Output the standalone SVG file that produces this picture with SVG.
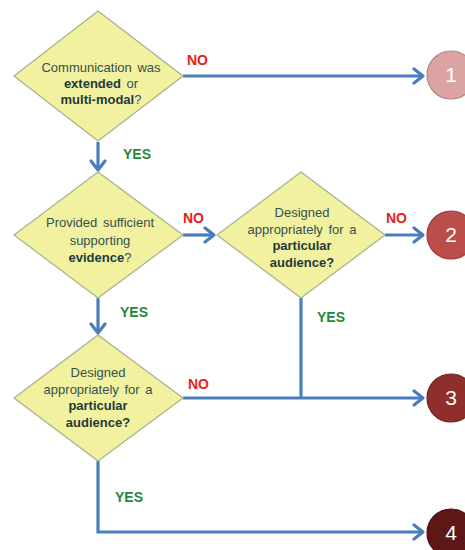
<svg xmlns="http://www.w3.org/2000/svg" width="465" height="550" viewBox="0 0 465 550">
<defs>
<marker id="arr" markerUnits="userSpaceOnUse" markerWidth="16" markerHeight="18" refX="12" refY="8" orient="auto" overflow="visible">
<path d="M3,1 L12,8 L3,15" fill="none" stroke="#4a7ebb" stroke-width="3.2" stroke-linecap="round" stroke-linejoin="round"/>
</marker>
<style>
.dia{fill:#f1f1a0;stroke:#a3b28c;stroke-width:1.2}
.dt{font-family:"Liberation Sans",Arial,sans-serif;font-size:13px;fill:#34504f;text-anchor:middle;word-spacing:2px}
.b{font-weight:bold;fill:#1f3a3a}
.no{font-family:"Liberation Sans",Arial,sans-serif;font-size:14px;font-weight:bold;fill:#e8201e}
.yes{font-family:"Liberation Sans",Arial,sans-serif;font-size:14px;font-weight:bold;fill:#1f8a3a}
.ln{fill:none;stroke:#4a7ebb;stroke-width:3.2}
.num{font-family:"Liberation Sans",Arial,sans-serif;font-size:21px;fill:#ffffff;text-anchor:middle}
</style>
</defs>
<rect width="465" height="550" fill="#ffffff"/>
<g id="connectors">
<path class="ln" d="M183,76 H423" marker-end="url(#arr)"/>
<path class="ln" d="M98,142 V170" marker-end="url(#arr)"/>
<path class="ln" d="M183,235 H214" marker-end="url(#arr)"/>
<path class="ln" d="M385,235 H423" marker-end="url(#arr)"/>
<path class="ln" d="M98,298 V333" marker-end="url(#arr)"/>
<path class="ln" d="M301,298 V398"/>
<path class="ln" d="M183,398 H423" marker-end="url(#arr)"/>
<path class="ln" d="M98,461 V532 H423" marker-end="url(#arr)"/>
<text class="no" x="187" y="65">NO</text>
<text class="yes" x="123" y="159">YES</text>
<text class="no" x="183" y="223">NO</text>
<text class="no" x="386" y="223">NO</text>
<text class="yes" x="120" y="317">YES</text>
<text class="yes" x="317" y="322">YES</text>
<text class="no" x="188" y="389">NO</text>
<text class="yes" x="115" y="502">YES</text>
</g>
<g id="q1">
<polygon class="dia" points="98,11 183,76 98,141 14,76"/>
<text class="dt" x="101" y="72">Communication was</text>
<text class="dt" x="101" y="88"><tspan class="b">extended</tspan> or</text>
<text class="dt" x="101" y="104"><tspan class="b">multi-modal</tspan>?</text>
</g>
<g id="q2">
<polygon class="dia" points="98,172 183,235 98,298 14,235"/>
<text class="dt" x="100" y="227">Provided sufficient</text>
<text class="dt" x="100" y="245">supporting</text>
<text class="dt" x="100" y="262"><tspan class="b">evidence</tspan>?</text>
</g>
<g id="q3">
<polygon class="dia" points="301,172 385,235 301,298 217,235"/>
<text class="dt" x="302" y="217">Designed</text>
<text class="dt" x="302" y="234">appropriately for a</text>
<text class="dt" x="302" y="250"><tspan class="b">particular</tspan></text>
<text class="dt" x="302" y="267"><tspan class="b">audience?</tspan></text>
</g>
<g id="q4">
<polygon class="dia" points="98,335 183,398 98,461 14,398"/>
<text class="dt" x="98" y="377">Designed</text>
<text class="dt" x="98" y="394">appropriately for a</text>
<text class="dt" x="98" y="410"><tspan class="b">particular</tspan></text>
<text class="dt" x="98" y="427"><tspan class="b">audience?</tspan></text>
</g>
<g id="n1">
<circle cx="451" cy="75" r="24" fill="#dca3a3" stroke="#b98484" stroke-width="1.2"/>
<text class="num" x="451" y="82" fill="#f7eded">1</text>
</g>
<g id="n2">
<circle cx="451" cy="235" r="24" fill="#bb4d4b" stroke="#9c3a38" stroke-width="1.2"/>
<text class="num" x="451" y="242">2</text>
</g>
<g id="n3">
<circle cx="451" cy="398" r="24" fill="#8e2f2e" stroke="#742322" stroke-width="1.2"/>
<text class="num" x="451" y="405">3</text>
</g>
<g id="n4">
<circle cx="451" cy="533" r="24" fill="#5c1716" stroke="#4a1110" stroke-width="1.2"/>
<text class="num" x="451" y="540">4</text>
</g>
</svg>
